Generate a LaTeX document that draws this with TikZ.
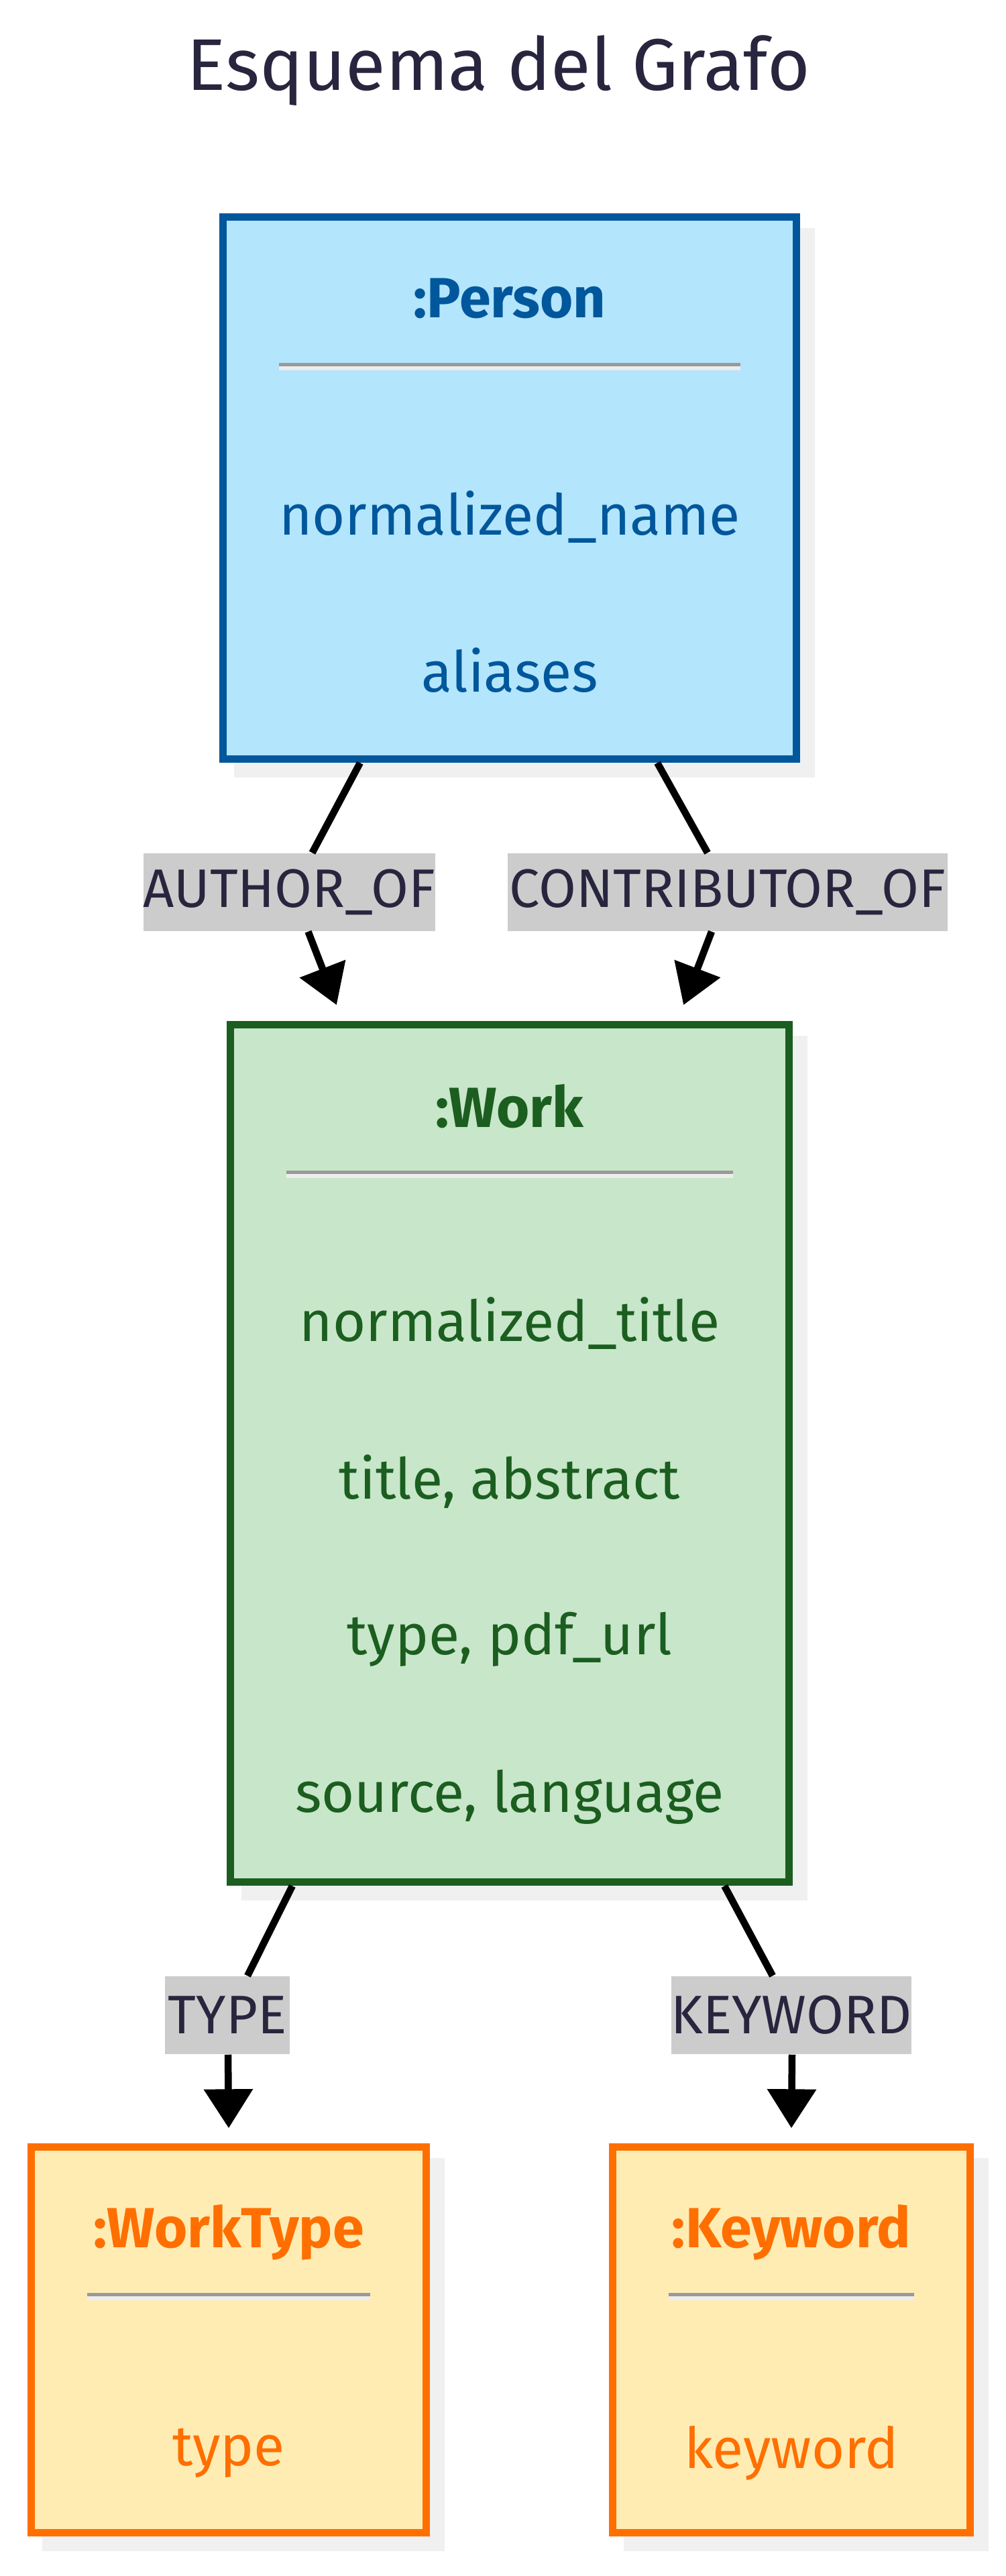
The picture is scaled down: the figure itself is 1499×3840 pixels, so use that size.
\documentclass[tikz,border=0pt]{standalone}
\usepackage{fontspec}
\setmainfont{Fira Sans}
\usetikzlibrary{arrows.meta,shadows,positioning}

\definecolor{personfill}{HTML}{B3E5FC}
\definecolor{personline}{HTML}{01579B}
\definecolor{workfill}{HTML}{C8E6C9}
\definecolor{workline}{HTML}{1B5E20}
\definecolor{tagfill}{HTML}{FFECB3}
\definecolor{tagline}{HTML}{FF6F00}
\definecolor{relfill}{HTML}{CCCCCC}
\definecolor{ink}{HTML}{28253E}
\definecolor{shade}{HTML}{F0F0F0}

\tikzset{
  entity/.style={draw, line width=0.11cm, inner sep=0pt,
    drop shadow={shadow xshift=0.22cm, shadow yshift=-0.22cm, fill=shade, draw=shade, opacity=1}},
  attr/.style={inner sep=0pt, font=\fontsize{24}{29}\selectfont},
  rel/.style={fill=relfill, text=ink, inner sep=0pt, minimum height=1.16cm,
    font=\fontsize{23}{28}\selectfont},
  conn/.style={line width=0.105cm, black},
  sep/.style={line width=0.05cm, black!40},
  sepshade/.style={line width=0.06cm, black!7}
}

\begin{document}
\begin{tikzpicture}[x=0.01cm, y=-0.01cm, >={Triangle[length=0.58cm, width=0.71cm]}]
        \useasboundingbox[fill=white] (0,0) rectangle (1499,3840);

        % Title
        \node[font=\fontsize{31}{37}\selectfont, text=ink] (title) at (743,105) {Esquema del Grafo};

        % Define entities
        \node[entity, draw=personline, fill=personfill, minimum width=8.55cm, minimum height=8.08cm] (person) at (760,727.5) {};
        \node[entity, draw=workline, fill=workfill, minimum width=8.33cm, minimum height=12.78cm] (work) at (760,2166.5) {};
        \node[entity, draw=tagline, fill=tagfill, minimum width=5.89cm, minimum height=5.75cm] (worktype) at (341,3488) {};
        \node[entity, draw=tagline, fill=tagfill, minimum width=5.33cm, minimum height=5.75cm] (keyword) at (1180,3488) {};

        % Person contents
        \node[attr, text=personline] (personhead) at ([yshift=-1.27cm]person.north) {\textbf{:Person}};
        \draw[sep] ([xshift=0.89cm, yshift=-2.255cm]person.north west) -- ([xshift=-0.89cm, yshift=-2.255cm]person.north east);
        \draw[sepshade] ([xshift=0.89cm, yshift=-2.31cm]person.north west) -- ([xshift=-0.89cm, yshift=-2.31cm]person.north east);
        \node[attr, text=personline] (personname) at ([yshift=-4.53cm]person.north) {normalized\_name};
        \node[attr, text=personline] (personalias) at ([yshift=-6.81cm]person.north) {aliases};

        % Work contents
        \node[attr, text=workline] (workhead) at ([yshift=-1.27cm]work.north) {\textbf{:Work}};
        \draw[sep] ([xshift=0.89cm, yshift=-2.255cm]work.north west) -- ([xshift=-0.89cm, yshift=-2.255cm]work.north east);
        \draw[sepshade] ([xshift=0.89cm, yshift=-2.31cm]work.north west) -- ([xshift=-0.89cm, yshift=-2.31cm]work.north east);
        \node[attr, text=workline] (worktitle) at ([yshift=-4.51cm]work.north) {normalized\_title};
        \node[attr, text=workline] (workabs) at ([yshift=-6.87cm]work.north) {title, abstract};
        \node[attr, text=workline] (workpdf) at ([yshift=-9.22cm]work.north) {type, pdf\_url};
        \node[attr, text=workline] (worklang) at ([yshift=-11.57cm]work.north) {source, language};

        % WorkType contents
        \node[attr, text=tagline] (typehead) at ([yshift=-1.33cm]worktype.north) {\textbf{:WorkType}};
        \draw[sep] ([xshift=0.89cm, yshift=-2.255cm]worktype.north west) -- ([xshift=-0.89cm, yshift=-2.255cm]worktype.north east);
        \draw[sepshade] ([xshift=0.89cm, yshift=-2.31cm]worktype.north west) -- ([xshift=-0.89cm, yshift=-2.31cm]worktype.north east);
        \node[attr, text=tagline] (typefield) at ([yshift=-4.62cm]worktype.north) {type};

        % Keyword contents
        \node[attr, text=tagline] (keyhead) at ([yshift=-1.33cm]keyword.north) {\textbf{:Keyword}};
        \draw[sep] ([xshift=0.89cm, yshift=-2.255cm]keyword.north west) -- ([xshift=-0.89cm, yshift=-2.255cm]keyword.north east);
        \draw[sepshade] ([xshift=0.89cm, yshift=-2.31cm]keyword.north west) -- ([xshift=-0.89cm, yshift=-2.31cm]keyword.north east);
        \node[attr, text=tagline] (keyfield) at ([yshift=-4.62cm]keyword.north) {keyword};

        % Relation labels
        \node[rel, minimum width=4.29cm] (authorof) at (431.5,1330) {AUTHOR\_OF};
        \node[rel, minimum width=6.56cm] (contribof) at (1085,1330) {CONTRIBUTOR\_OF};
        \node[rel, minimum width=1.86cm] (typerel) at (339,3004) {TYPE};
        \node[rel, minimum width=3.58cm] (keyrel) at (1180,3004) {KEYWORD};

        % Arrow ends
        \coordinate (authortip) at ([xshift=-2.58cm, yshift=0.235cm]work.north);
        \coordinate (contribtip) at ([xshift=2.59cm, yshift=0.235cm]work.north);
        \coordinate (typetip) at ([yshift=0.225cm]worktype.north);
        \coordinate (keytip) at ([yshift=0.225cm]keyword.north);

        % Draw edges
        \draw[conn] ([xshift=-2.23cm]person.south) -- ([xshift=0.34cm]authorof.north);
        \draw[conn, ->] ([xshift=0.28cm]authorof.south) -- (authortip);
        \draw[conn] ([xshift=2.2cm]person.south) -- ([xshift=-0.3cm]contribof.north);
        \draw[conn, ->] ([xshift=-0.24cm]contribof.south) -- (contribtip);
        \draw[conn] ([xshift=-3.24cm]work.south) -- ([xshift=0.3cm]typerel.north);
        \draw[conn, ->] ([xshift=0.01cm]typerel.south) -- (typetip);
        \draw[conn] ([xshift=3.2cm]work.south) -- ([xshift=-0.28cm]keyrel.north);
        \draw[conn, ->] ([xshift=0.01cm]keyrel.south) -- (keytip);
    \end{tikzpicture}
\end{document}
